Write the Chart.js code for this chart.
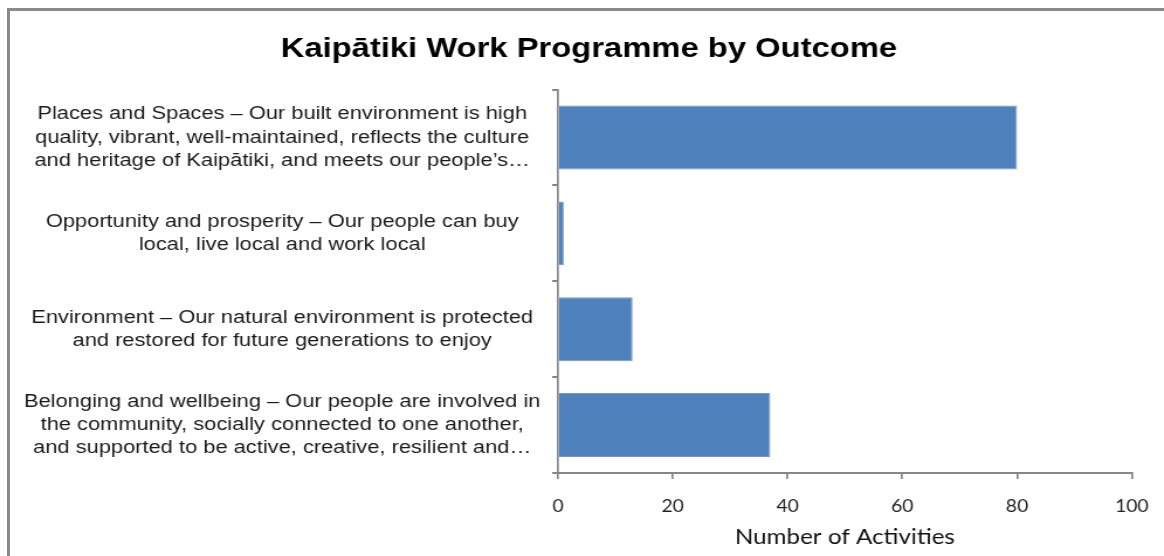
<!DOCTYPE html>
<html lang="en">
<head>
<meta charset="utf-8">
<title>Kaipātiki Work Programme by Outcome</title>
<script src="https://cdn.jsdelivr.net/npm/chart.js@4/dist/chart.umd.min.js"></script>
<style>
  html, body { margin: 0; padding: 0; background: #fff; overflow: hidden; }
  #frame {
    position: absolute; left: 7px; top: 8px; width: 1200px; height: 600px;
    border-left: 3px solid #8a8a8a; border-top: 3px solid #8a8a8a;
  }
  /* the chart is laid out narrow and widened to the full 1164px */
  #wrap {
    position: absolute; left: 0; top: 0; width: 995px; height: 556px;
    transform: scaleX(1.1698); transform-origin: 0 0;
  }
</style>
</head>
<body>
<div id="frame"></div>
<div id="wrap"><canvas id="outcome-chart" width="995" height="556"></canvas></div>
<script>
// ── Chart Data ─────────────────────────────────────────────────
const OUTCOMES = [
  ['Places and Spaces – Our built environment is high',
   'quality, vibrant, well-maintained, reflects the culture',
   'and heritage of Kaipātiki, and meets our people’s…'],
  ['Opportunity and prosperity – Our people can buy',
   'local, live local and work local'],
  ['Environment – Our natural environment is protected',
   'and restored for future generations to enjoy'],
  ['Belonging and wellbeing – Our people are involved in',
   'the community, socially connected to one another,',
   'and supported to be active, creative, resilient and…'],
];
const ACTIVITY_COUNTS = [80, 1, 13, 37];
const X_TICKS = [0, 20, 40, 60, 80, 100];

// ── Styling ────────────────────────────────────────────────────
const AXIS_GREY = '#868686';
const BAR_BLUE = '#4f81bd';
const ARIAL = "'Liberation Sans', Arial, sans-serif";
const CALIBRI_LIKE = "Lato, 'Open Sans', sans-serif";

// Title sits centred over the plot side rather than the whole canvas
const titleOffset = {
  id: 'titleOffset',
  afterLayout(chart) {
    const t = chart.titleBlock;
    if (t) t.left += 29.3;
  },
};

new Chart(document.getElementById('outcome-chart'), {
  type: 'bar',
  data: {
    labels: OUTCOMES,
    datasets: [{
      data: ACTIVITY_COUNTS,
      backgroundColor: BAR_BLUE,
      borderColor: '#6f97cb',
      borderWidth: 1,
      categoryPercentage: 1,
      barPercentage: 0.667,
    }],
  },
  plugins: [titleOffset],
  options: {
    indexAxis: 'y',
    responsive: false,
    animation: false,
    layout: { padding: { left: 10, right: 27.5, top: 14, bottom: 0 } },
    plugins: {
      legend: { display: false },
      tooltip: { enabled: false },
      title: {
        display: true,
        text: 'Kaipātiki Work Programme by Outcome',
        color: '#000',
        font: { family: ARIAL, size: 28, weight: 'bold' },
        padding: { top: 18, bottom: 24 },
      },
    },
    scales: {
      x: {
        min: 0,
        max: 100,
        afterBuildTicks: (scale) => { scale.ticks = X_TICKS.map((v) => ({ value: v })); },
        afterFit: (scale) => {
          // fixed band height; the end labels may hang into the layout padding
          scale.height = 83;
          scale.paddingLeft = 0;
          scale.paddingRight = 0;
        },
        border: { display: true, color: AXIS_GREY, width: 2 },
        grid: { drawOnChartArea: false, drawTicks: true, tickLength: 6, color: AXIS_GREY, lineWidth: 1.7 },
        ticks: {
          color: '#222',
          padding: 17.5,
          font: { family: CALIBRI_LIKE, size: 16.5 },
        },
        title: {
          display: true,
          text: 'Number of Activities',
          color: '#111',
          font: { family: CALIBRI_LIKE, size: 20.7 },
          padding: { top: 0, bottom: 6 },
        },
      },
      y: {
        afterFit: (scale) => { scale.width = 467; },
        border: { display: true, color: AXIS_GREY, width: 1.7 },
        grid: { drawOnChartArea: false, drawTicks: true, tickLength: 5, color: AXIS_GREY, lineWidth: 2 },
        ticks: {
          color: '#1a1a1a',
          padding: 10,
          crossAlign: 'center',
          autoSkip: false,
          font: { family: ARIAL, size: 18.7, lineHeight: 1.24 },
        },
      },
    },
  },
});
</script>
</body>
</html>
